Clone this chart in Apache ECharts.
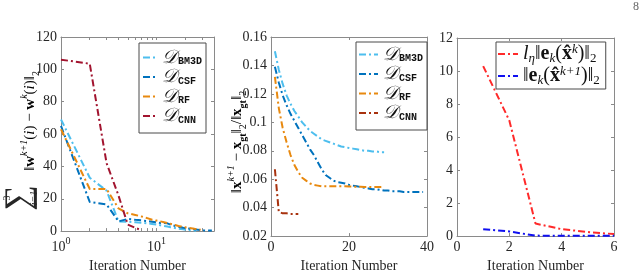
<!DOCTYPE html>
<html><head><meta charset="utf-8">
<script src="https://cdn.jsdelivr.net/npm/echarts@6/dist/echarts.min.js"></script>
<style>html,body{margin:0;padding:0;background:#fff}#c{width:640px;height:278px}</style>
</head><body><div id="c"></div><script>
// ---------- Panel 1 (log x) ----------
const p1BM3D = [69, 33, 25, 6, 5.8, 5.5, 5.2, 4.8, 4.4, 4, 3.6, 3.2, 2.8, 2.4, 2.1, 1.8, 1.5, 1.3, 1.1, 0.9, 0.7, 0.6, 0.5, 0.4, 0.3, 0.2];
const p1CSF  = [65, 18, 16.5, 6, 7.5, 7, 6.6, 6.2, 5.8, 5.4, 5, 5, 4.8, 4, 3.5, 3, 2.7, 2.4, 2.1, 1.9, 1.7, 1.5, 1.3, 1.2, 1.1, 1.0, 0.9, 0.8, 0.7, 0.6, 0.5, 0.5, 0.4, 0.4, 0.3, 0.3, 0.3, 0.3];
const p1RF   = [63, 26, 26, 14, 11, 10, 9, 8, 7, 6.5, 6, 5.5, 5, 4.5, 4, 3.6, 3.2, 2.9, 2.6, 2.4, 2.2, 2, 1.8, 1.6, 1.4, 1.2, 1.1, 1, 0.9];
const p1CNN  = [106, 103.5, 42, 22, 4, 2, 0.5];
const p1YTicks = [0, 20, 40, 60, 80, 100, 120];
const p1XLabels = [1, 10];
// ---------- Panel 2 ----------
const p2BM3D = [0.150, 0.137, 0.127, 0.119, 0.113, 0.108, 0.104, 0.100, 0.097, 0.094, 0.092, 0.090, 0.088, 0.087, 0.086, 0.085, 0.084, 0.083, 0.0825, 0.082, 0.0815, 0.081, 0.0805, 0.080, 0.080, 0.0795, 0.0795, 0.079, 0.079];
const p2CSF  = [0.139, 0.128, 0.119, 0.112, 0.106, 0.101, 0.096, 0.091, 0.086, 0.081, 0.077, 0.072, 0.067, 0.063, 0.061, 0.059, 0.058, 0.0575, 0.057, 0.056, 0.0555, 0.055, 0.0545, 0.054, 0.0535, 0.053, 0.053, 0.0525, 0.052, 0.052, 0.0515, 0.0515, 0.0515, 0.051, 0.051, 0.051, 0.051, 0.051, 0.051];
const p2RF   = [0.132, 0.110, 0.096, 0.086, 0.077, 0.070, 0.065, 0.061, 0.059, 0.057, 0.056, 0.0555, 0.055, 0.055, 0.055, 0.055, 0.055, 0.055, 0.055, 0.0548, 0.0548, 0.0547, 0.0547, 0.0546, 0.0546, 0.0545, 0.0545, 0.0545, 0.0545];
const p2CNN  = [0.067, 0.037, 0.036, 0.036, 0.0355, 0.0355, 0.0355];
// ---------- Panel 3 ----------
const p3Red  = [10.3, 7.0, 0.76, 0.42, 0.25, 0.12];
const p3Blue = [0.42, 0.28, 0.03, 0.02, 0.02, 0.02];

const FONT = 'Liberation Serif';
const TXT = '#262626';
const FRAME = '#8a8a8a';
const DASH = [7, 3, 2, 3];

function pairs(arr) { return arr.map((v, i) => [i + 1, v]); }
function ln(name, xi, yi, arr, color) {
  return { type: 'line', name, xAxisIndex: xi, yAxisIndex: yi, data: pairs(arr),
    symbol: 'none', showSymbol: false, clip: true, animation: false,
    lineStyle: { color, width: 2, type: DASH }, itemStyle: { color } };
}
const C = { bm3d: '#4DBEEE', csf: '#0072BD', rf: '#E8890F', cnn1: '#A2142F', cnn2: '#A8320E', red: '#FF2A2A', blue: '#1010F0' };

const grids = [
  { left: 61, top: 37, width: 153, height: 203 },
  { left: 271, top: 37, width: 156, height: 206 },
  { left: 457, top: 38, width: 157, height: 204 }
];
const lab = { fontFamily: FONT, fontSize: 14, color: TXT };
function xBottom(gi, extra) {
  return Object.assign({ gridIndex: gi, position: 'bottom', type: 'value',
    axisLine: { show: true, onZero: false, lineStyle: { color: FRAME } },
    axisTick: { show: true, inside: true, length: 3, lineStyle: { color: FRAME } },
    splitLine: { show: false },
    axisLabel: Object.assign({ margin: 4 }, lab),
    name: 'Iteration Number', nameLocation: 'middle', nameGap: 22,
    nameTextStyle: { fontFamily: FONT, fontSize: 14, color: TXT } }, extra);
}
function xTop(gi, extra) {
  return Object.assign({ gridIndex: gi, position: 'top', type: 'value',
    axisLine: { show: true, onZero: false, lineStyle: { color: FRAME } },
    axisTick: { show: true, inside: true, length: 3, lineStyle: { color: FRAME } },
    splitLine: { show: false }, axisLabel: { show: false } }, extra);
}
function yLeft(gi, extra) {
  return Object.assign({ gridIndex: gi, position: 'left', type: 'value',
    axisLine: { show: true, onZero: false, lineStyle: { color: FRAME } },
    axisTick: { show: true, inside: true, length: 3, lineStyle: { color: FRAME } },
    splitLine: { show: false },
    axisLabel: Object.assign({ margin: 4 }, lab) }, extra);
}
function yRight(gi, extra) {
  return Object.assign({ gridIndex: gi, position: 'right', type: 'value',
    axisLine: { show: true, onZero: false, lineStyle: { color: FRAME } },
    axisTick: { show: true, inside: true, length: 3, lineStyle: { color: FRAME } },
    splitLine: { show: false }, axisLabel: { show: false } }, extra);
}
const logTicks = [1,2,3,4,5,6,7,8,9,10,20,30,40];
const logX = { type: 'log', logBase: 10, min: 1, max: 40 };

const xAxis = [
  xBottom(0, Object.assign({}, logX, {
    axisTick: { show: true, inside: true, length: 3, customValues: logTicks, lineStyle: { color: FRAME } },
    axisLabel: { margin: 5, customValues: p1XLabels, fontFamily: FONT, fontSize: 14, color: TXT,
      formatter: v => '{b|10}{s|' + Math.round(Math.log10(v)) + '}',
      rich: { b: { fontFamily: FONT, fontSize: 14, color: TXT, lineHeight: 18, verticalAlign: 'bottom' },
              s: { fontFamily: FONT, fontSize: 10, color: TXT, lineHeight: 18, verticalAlign: 'top', padding: [0,0,6,0] } } },
    nameGap: 24 })),
  xTop(0, Object.assign({}, logX, {
    axisTick: { show: true, inside: true, length: 3, customValues: logTicks, lineStyle: { color: FRAME } } })),
  xBottom(1, { min: 0, max: 40, interval: 20, nameGap: 21 }),
  xTop(1, { min: 0, max: 40, interval: 20 }),
  xBottom(2, { min: 0, max: 6, interval: 2, nameGap: 21 }),
  xTop(2, { min: 0, max: 6, interval: 2 })
];
const yAxis = [
  yLeft(0, { min: 0, max: 120, interval: 20 }),
  yRight(0, { min: 0, max: 120, interval: 20 }),
  yLeft(1, { min: 0.02, max: 0.16, interval: 0.02 }),
  yRight(1, { min: 0.02, max: 0.16, interval: 0.02 }),
  yLeft(2, { min: 0, max: 12, interval: 2 }),
  yRight(2, { min: 0, max: 12, interval: 2 })
];

const series = [
  ln('a_BM3D', 0, 0, p1BM3D, C.bm3d),
  ln('a_CSF', 0, 0, p1CSF, C.csf),
  ln('a_RF', 0, 0, p1RF, C.rf),
  ln('a_CNN', 0, 0, p1CNN, C.cnn1),
  ln('b_BM3D', 2, 2, p2BM3D, C.bm3d),
  ln('b_CSF', 2, 2, p2CSF, C.csf),
  ln('b_RF', 2, 2, p2RF, C.rf),
  ln('b_CNN', 2, 2, p2CNN, C.cnn2),
  ln('c_red', 4, 4, p3Red, C.red),
  ln('c_blue', 4, 4, p3Blue, C.blue)
];

const dRich = {
  d: { fontFamily: FONT, fontStyle: 'italic', fontSize: 19, color: '#111', lineHeight: 20, verticalAlign: 'middle' },
  s: { fontFamily: 'Liberation Mono', fontWeight: 'bold', fontSize: 10, color: '#111', lineHeight: 20, verticalAlign: 'bottom', padding: [0, 0, 1, 1] }
};
function dLegend(prefix, left, top, itemWidth, pad) {
  return { orient: 'vertical', left, top, itemWidth, itemHeight: 10, itemGap: 0,
    padding: pad, borderColor: '#4a4a4a', borderWidth: 1, backgroundColor: '#fff',
    selectedMode: false, borderRadius: 0,
    itemStyle: { opacity: 0 },
    data: ['BM3D', 'CSF', 'RF', 'CNN'].map(s => prefix + '_' + s),
    formatter: n => '{d|𝒟}{s|' + n.split('_')[1] + '}',
    textStyle: { rich: dRich } };
}
const eRich = {
  i: { fontFamily: FONT, fontStyle: 'italic', fontSize: 20, color: '#111', lineHeight: 22 },
  n: { fontFamily: FONT, fontSize: 20, color: '#111', lineHeight: 22 },
  b: { fontFamily: FONT, fontWeight: 'bold', fontSize: 20, color: '#111', lineHeight: 22 },
  sub: { fontFamily: FONT, fontStyle: 'italic', fontSize: 13, color: '#111', lineHeight: 22, verticalAlign: 'bottom', padding: [0,0,0,0] },
  subn: { fontFamily: FONT, fontSize: 13, color: '#111', lineHeight: 22, verticalAlign: 'bottom', padding: [0,0,0,0] },
  sup: { fontFamily: FONT, fontStyle: 'italic', fontSize: 13, color: '#111', lineHeight: 22, verticalAlign: 'top', padding: [0,0,0,0] }
};
const legend = [
  dLegend('a', 139, 43, 14, [5, 4, 7, 3]),
  dLegend('b', 356, 42, 19, [3, 4, 7, 2]),
  { orient: 'vertical', left: 496, top: 42, itemWidth: 20, itemHeight: 10, itemGap: 0,
    padding: [1, 6, 2, 1], borderColor: '#4a4a4a', borderWidth: 1, backgroundColor: '#fff',
    selectedMode: false, itemStyle: { opacity: 0 },
    data: ['c_red', 'c_blue'],
    formatter: n => n === 'c_red'
      ? '{i|l}{sub|η}{n|‖}{b|e}{sub|k}{n|(}{b|x̂}{sup|k}{n|)‖}{subn|2}'
      : '{n|‖}{b|e}{sub|k}{n|(}{b|x̂}{sup|k+1}{n|)‖}{subn|2}',
    textStyle: { rich: eRich } }
];

// rotated y-axis titles
const yr = {
  n: { fontFamily: FONT, fontSize: 15, color: TXT, lineHeight: 22 },
  i: { fontFamily: FONT, fontStyle: 'italic', fontSize: 15, color: TXT, lineHeight: 22 },
  b: { fontFamily: FONT, fontWeight: 'bold', fontSize: 15, color: TXT, lineHeight: 22 },
  sup: { fontFamily: FONT, fontStyle: 'italic', fontSize: 10, color: TXT, lineHeight: 22, verticalAlign: 'top' },
  sub: { fontFamily: FONT, fontSize: 10, color: TXT, lineHeight: 22, verticalAlign: 'bottom' },
  subb: { fontFamily: FONT, fontWeight: 'bold', fontSize: 10, color: TXT, lineHeight: 22, verticalAlign: 'bottom' }
};
const graphic = [
  { type: 'text', x: 30, y: 121, rotation: Math.PI / 2,
    style: { text: '{n|‖}{b|w}{sup|k+1}{n|(}{i|i}{n|) − }{b|w}{sup|k}{n|(}{i|i}{n|)‖}{sub|2}', rich: yr, align: 'center', verticalAlign: 'middle' } },
  { type: 'text', x: 20, y: 198, rotation: Math.PI / 2,
    style: { text: '∑', fontFamily: FONT, fontSize: 36, fill: TXT, align: 'center', verticalAlign: 'middle' } },
  { type: 'text', x: 7, y: 198, rotation: Math.PI / 2,
    style: { text: '3', fontFamily: FONT, fontSize: 10, fill: TXT, align: 'center', verticalAlign: 'middle' } },
  { type: 'text', x: 34, y: 198, rotation: Math.PI / 2,
    style: { text: 'i=1', fontFamily: FONT, fontStyle: 'italic', fontSize: 10, fill: TXT, align: 'center', verticalAlign: 'middle' } },
  { type: 'text', x: 237, y: 142, rotation: Math.PI / 2,
    style: { text: '{n|‖}{b|x}{sup|k+1}{n| − }{b|x}{subb|gt}{n|‖}{sub|2}{n|/‖}{b|x}{subb|gt}{n|‖}{sub|2}', rich: yr, align: 'center', verticalAlign: 'middle' } },
  { type: 'text', x: 633, y: 1,
    style: { text: '8', fontFamily: FONT, fontSize: 12, fill: '#666' } }
];

const chart = echarts.init(document.getElementById('c'), null, { renderer: 'canvas' });
chart.setOption({ animation: false, backgroundColor: '#fff', grid: grids, xAxis, yAxis, series, legend, graphic });
</script></body></html>
